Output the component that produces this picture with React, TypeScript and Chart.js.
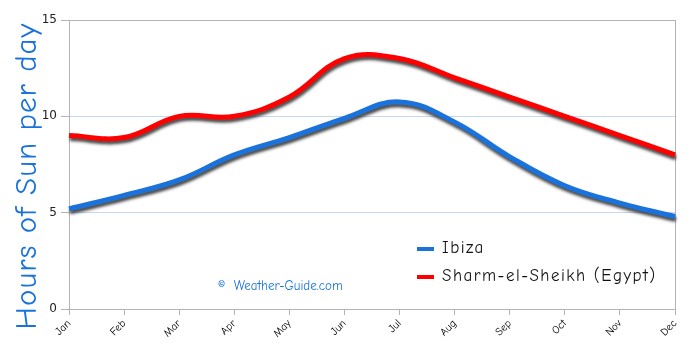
import React, { useEffect, useRef } from "react";
import { Chart, registerables } from "chart.js";

Chart.register(...registerables);

const months = ["Jan", "Feb", "Mar", "Apr", "May", "Jun", "Jul", "Aug", "Sep", "Oct", "Nov", "Dec"];
const ibiza = [5.2, 5.9, 6.7, 8.0, 8.9, 9.9, 10.75, 9.7, 7.9, 6.4, 5.5, 4.8];
const sharm = [9.0, 8.9, 10.0, 10.0, 11.0, 13.0, 13.0, 12.0, 11.0, 10.0, 9.0, 8.0];
const yTicks = [0, 5, 10, 15];
const yTitle = "Hours of Sun per day";
const watermark = "©  Weather-Guide.com";

const HAND = "'Comic Sans MS', 'Comic Neue', 'Noto Sans', sans-serif";
const BLUE = "#1a73dc";
const RED = "#ff0000";

export default function App() {
  const ref = useRef<HTMLCanvasElement>(null);
  useEffect(() => {
    document.body.style.margin = "0";
    const ctx = ref.current!.getContext("2d")!;
    const shadowPlugin = {
      id: "shadow",
      beforeDatasetDraw(chart: any) {
        const c = chart.ctx;
        c.save();
        c.shadowColor = "rgba(40,40,40,0.85)";
        c.shadowOffsetX = 1;
        c.shadowOffsetY = 3;
        c.shadowBlur = 3;
      },
      afterDatasetDraw(chart: any) {
        chart.ctx.restore();
      },
    };
    const framePlugin = {
      id: "frame",
      beforeDatasetsDraw(chart: any) {
        const { ctx: c, chartArea: a } = chart;
        c.save();
        c.strokeStyle = "#b4b4b4";
        c.lineWidth = 1;
        c.strokeRect(Math.round(a.left) + 0.5, Math.round(a.top) + 0.5, Math.round(a.right - a.left), Math.round(a.bottom - a.top));
        c.restore();
      },
      afterDraw(chart: any) {
        const { ctx: c, chartArea: a } = chart;
        c.save();
        // y title
        c.save();
        c.translate(27, 176);
        c.rotate(-Math.PI / 2);
        c.font = `31px ${HAND}`;
        c.fillStyle = BLUE;
        c.textAlign = "center";
        c.textBaseline = "middle";
        (c as any).letterSpacing = "1px";
        c.fillText(yTitle, 0, 0);
        c.restore();
        // legend
        const items = chart.data.datasets.map((d: any) => ({ label: d.label, color: d.borderColor }));
        const lx = a.left + 348;
        let ly = a.top + 228;
        c.font = `17px ${HAND}`;
        (c as any).letterSpacing = "1.5px";
        c.textBaseline = "middle";
        items.forEach((it: any) => {
          c.strokeStyle = it.color;
          c.lineWidth = 4;
          c.beginPath();
          c.moveTo(lx, ly + 1);
          c.lineTo(lx + 17, ly + 1);
          c.stroke();
          c.fillStyle = "#111";
          c.fillText(it.label, lx + 25, ly);
          ly += 28;
        });
        // watermark
        c.font = `13px ${HAND}`;
        (c as any).letterSpacing = "0px";
        c.fillStyle = BLUE;
        c.fillText(watermark, a.left + 149, a.top + 266);
        c.restore();
      },
    };
    const chart = new Chart(ctx, {
      type: "line",
      data: {
        labels: months,
        datasets: [
          { label: "Ibiza", data: ibiza, borderColor: BLUE, borderWidth: 5, pointRadius: 0, tension: 0.4, fill: false },
          { label: "Sharm-el-Sheikh (Egypt)", data: sharm, borderColor: RED, borderWidth: 5, pointRadius: 0, tension: 0.4, fill: false },
        ],
      },
      options: {
        animation: false,
        responsive: false,
        layout: { padding: { top: 20, right: 15, left: 0, bottom: 0 } },
        plugins: { legend: { display: false }, tooltip: { enabled: false } },
        scales: {
          x: {
            offset: false,
            border: { display: false },
            grid: { drawOnChartArea: false, tickLength: 6, color: "#b4b4b4", tickColor: "#b4b4b4" },
            ticks: { maxRotation: 45, minRotation: 45, color: "#000", font: { family: HAND, size: 11 }, padding: 2 },
            afterFit(s: any) { s.height = 43; },
          },
          y: {
            min: 0,
            max: 15,
            afterBuildTicks(s: any) { s.ticks = yTicks.map((v) => ({ value: v })); },
            border: { display: false },
            grid: { color: "#c4daf2", tickLength: 8, tickColor: "#b4b4b4" },
            ticks: { color: "#222", font: { family: "'DejaVu Sans', sans-serif", size: 12 }, padding: 4 },
            afterFit(s: any) { s.width = 69; },
          },
        },
      },
      plugins: [framePlugin, shadowPlugin],
    });
    return () => chart.destroy();
  }, []);
  return (
    <div style={{ position: "absolute", left: 0, top: 0, width: 690, height: 352 }}>
      <canvas ref={ref} width={690} height={352} style={{ width: 690, height: 352 }} />
    </div>
  );
}
